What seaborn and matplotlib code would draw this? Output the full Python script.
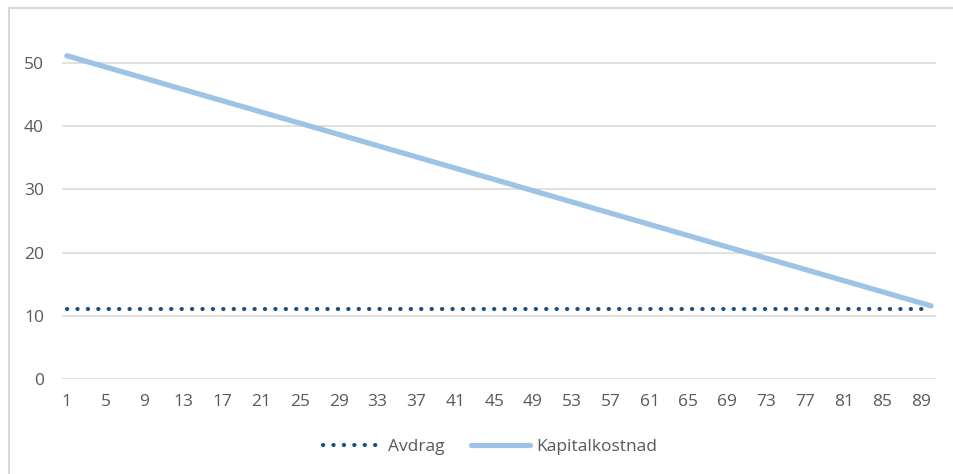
import matplotlib
matplotlib.use("Agg")
import matplotlib.pyplot as plt
from matplotlib.lines import Line2D
import seaborn as sns
import pandas as pd

# Year number of the repayment period (1..90)
years = list(range(1, 91))

# Annual amortisation (constant)
avdrag = [
    11.11, 11.11, 11.11, 11.11, 11.11, 11.11, 11.11, 11.11, 11.11, 11.11, 11.11, 11.11, 11.11, 11.11, 11.11,
    11.11, 11.11, 11.11, 11.11, 11.11, 11.11, 11.11, 11.11, 11.11, 11.11, 11.11, 11.11, 11.11, 11.11, 11.11,
    11.11, 11.11, 11.11, 11.11, 11.11, 11.11, 11.11, 11.11, 11.11, 11.11, 11.11, 11.11, 11.11, 11.11, 11.11,
    11.11, 11.11, 11.11, 11.11, 11.11, 11.11, 11.11, 11.11, 11.11, 11.11, 11.11, 11.11, 11.11, 11.11, 11.11,
    11.11, 11.11, 11.11, 11.11, 11.11, 11.11, 11.11, 11.11, 11.11, 11.11, 11.11, 11.11, 11.11, 11.11, 11.11,
    11.11, 11.11, 11.11, 11.11, 11.11, 11.11, 11.11, 11.11, 11.11, 11.11, 11.11, 11.11, 11.11, 11.11, 11.11,
]

# Annual capital cost (amortisation + interest)
kapitalkostnad = [
    51.11, 50.67, 50.22, 49.78, 49.33, 48.89, 48.44, 48.00, 47.56, 47.11,
    46.67, 46.22, 45.78, 45.33, 44.89, 44.44, 44.00, 43.56, 43.11, 42.67,
    42.22, 41.78, 41.33, 40.89, 40.44, 40.00, 39.56, 39.11, 38.67, 38.22,
    37.78, 37.33, 36.89, 36.44, 36.00, 35.56, 35.11, 34.67, 34.22, 33.78,
    33.33, 32.89, 32.44, 32.00, 31.56, 31.11, 30.67, 30.22, 29.78, 29.33,
    28.89, 28.44, 28.00, 27.56, 27.11, 26.67, 26.22, 25.78, 25.33, 24.89,
    24.44, 24.00, 23.56, 23.11, 22.67, 22.22, 21.78, 21.33, 20.89, 20.44,
    20.00, 19.56, 19.11, 18.67, 18.22, 17.78, 17.33, 16.89, 16.44, 16.00,
    15.56, 15.11, 14.67, 14.22, 13.78, 13.33, 12.89, 12.44, 12.00, 11.56,
]

x_ticks = list(range(1, 91, 4))
y_ticks = [0, 10, 20, 30, 40, 50]

sns.set_theme(style="white")
plt.rcParams["font.family"] = ["Open Sans", "DejaVu Sans"]

df = pd.DataFrame({"År": years, "Avdrag": avdrag, "Kapitalkostnad": kapitalkostnad})

DOTS = (0, (0.05, 2.45))

fig = plt.figure(figsize=(9.54, 4.74), dpi=100)
ax = fig.add_axes([62 / 954, 1 - 379 / 474, (936 - 62) / 954, 339 / 474])

sns.lineplot(data=df, x="År", y="Avdrag", ax=ax, color="#1F4E79",
             linewidth=3.0, label="Avdrag", zorder=3)
line_avdrag = ax.lines[-1]
line_avdrag.set_linestyle(DOTS)
line_avdrag.set_dash_capstyle("round")

sns.lineplot(data=df, x="År", y="Kapitalkostnad", ax=ax, color="#9DC3E6",
             linewidth=3.8, label="Kapitalkostnad", zorder=2)
ax.lines[-1].set_solid_capstyle("round")

ax.set_xlim(0.5, 90.5)
ax.set_ylim(0, 53.6)
ax.set_xticks(x_ticks)
ax.set_yticks(y_ticks)
ax.set_xlabel("")
ax.set_ylabel("")
ax.yaxis.grid(True, color="#D9D9D9", linewidth=1.1)
ax.xaxis.grid(False)
ax.set_axisbelow(True)
for s in ax.spines.values():
    s.set_visible(False)
ax.tick_params(axis="both", length=0, labelsize=12.5, labelcolor="#595959")
ax.tick_params(axis="y", pad=13)
ax.tick_params(axis="x", pad=11)

ax.get_legend().remove()
handles = [
    Line2D([0], [0], color="#1F4E79", linewidth=3.0, linestyle=DOTS,
           dash_capstyle="round"),
    Line2D([0], [0], color="#9DC3E6", linewidth=3.8),
]
fig.legend(handles, ["Avdrag", "Kapitalkostnad"], loc="center",
           bbox_to_anchor=(490 / 954, 1 - 447 / 474), ncol=2, frameon=False,
           fontsize=12.5, labelcolor="#595959", handlelength=3.4,
           handletextpad=0.35, columnspacing=1.5)

# Chart area frame (top and left edges)
fig.add_artist(Line2D([9 / 954, 1.0], [1 - 7.5 / 474, 1 - 7.5 / 474],
                      transform=fig.transFigure, color="#D9D9D9", linewidth=1.5))
fig.add_artist(Line2D([9 / 954, 9 / 954], [0.0, 1 - 7.5 / 474],
                      transform=fig.transFigure, color="#D9D9D9", linewidth=1.5))

fig.savefig("out.png", dpi=100, facecolor="white")
